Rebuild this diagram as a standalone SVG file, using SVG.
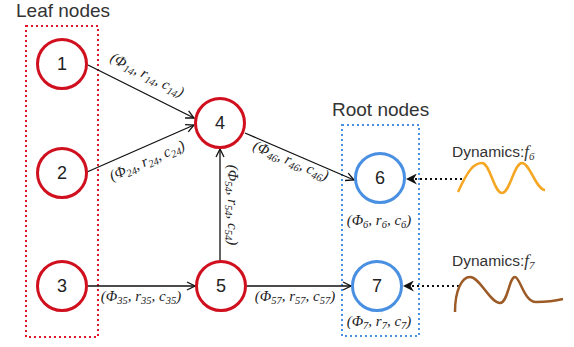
<svg xmlns="http://www.w3.org/2000/svg" width="574" height="347" viewBox="0 0 574 347">
<defs>
<style>
.leaf{fill:#fff;stroke:#d0101e;stroke-width:3}
.root{fill:#fff;stroke:#4a90e2;stroke-width:3}
.num{font-family:"Liberation Sans",Arial,sans-serif;font-size:18px;fill:#222;text-anchor:middle}
.title{font-family:"Liberation Sans",Arial,sans-serif;font-size:19px;fill:#333}
.dyn{font-family:"Liberation Sans",Arial,sans-serif;font-size:15.5px;fill:#333}
.lbl{font-family:"Liberation Serif","Times New Roman",serif;font-style:italic;font-size:15px;fill:#222;text-anchor:middle}
.sub{font-size:10.5px}
.edge{stroke:#111;stroke-width:1.3;fill:none;marker-end:url(#open)}
.dots{stroke:#111;stroke-width:2;stroke-dasharray:2 3;fill:none;marker-end:url(#classic)}
</style>
<marker id="open" viewBox="0 0 10 10" refX="9" refY="5" markerWidth="10" markerHeight="10" markerUnits="userSpaceOnUse" orient="auto">
<path d="M1,1 L9,5 L1,9" fill="none" stroke="#111" stroke-width="1.3"/>
</marker>
<marker id="classic" viewBox="0 0 10 10" refX="9" refY="5" markerWidth="11" markerHeight="11" markerUnits="userSpaceOnUse" orient="auto">
<path d="M0,0 L10,5 L0,10 L3,5 z" fill="#111"/>
</marker>
</defs>
<rect width="574" height="347" fill="#fff"/>
<g id="leaf-group">
<rect x="26" y="26" width="72" height="311" fill="none" stroke="#e0182a" stroke-width="2" stroke-dasharray="2 3"/>
<text class="title" x="16" y="17">Leaf nodes</text>
</g>
<g id="root-group">
<rect x="342" y="125" width="77" height="211" fill="none" stroke="#4a90e2" stroke-width="2" stroke-dasharray="2 3"/>
<text class="title" x="332" y="116">Root nodes</text>
</g>
<g id="connectors">
<line class="edge" x1="88" y1="65" x2="194" y2="118"/>
<line class="edge" x1="87" y1="172" x2="194" y2="125"/>
<line class="edge" x1="245" y1="133" x2="354" y2="180"/>
<line class="edge" x1="220" y1="261" x2="220" y2="149"/>
<line class="edge" x1="88" y1="286" x2="195" y2="286"/>
<line class="edge" x1="247" y1="286" x2="351" y2="286"/>
<line class="dots" x1="462" y1="179" x2="407" y2="179"/>
<line class="dots" x1="459" y1="286" x2="404" y2="286"/>
<text class="lbl" transform="translate(145,79) rotate(27)">(Φ<tspan class="sub" dy="3">14</tspan><tspan dy="-3">, r</tspan><tspan class="sub" dy="3">14</tspan><tspan dy="-3">, c</tspan><tspan class="sub" dy="3">14</tspan><tspan dy="-3">)</tspan></text>
<text class="lbl" transform="translate(149,165) rotate(-23.5)">(Φ<tspan class="sub" dy="3">24</tspan><tspan dy="-3">, r</tspan><tspan class="sub" dy="3">24</tspan><tspan dy="-3">, c</tspan><tspan class="sub" dy="3">24</tspan><tspan dy="-3">)</tspan></text>
<text class="lbl" transform="translate(289,165) rotate(23)">(Φ<tspan class="sub" dy="3">46</tspan><tspan dy="-3">, r</tspan><tspan class="sub" dy="3">46</tspan><tspan dy="-3">, c</tspan><tspan class="sub" dy="3">46</tspan><tspan dy="-3">)</tspan></text>
<text class="lbl" transform="translate(228,205) rotate(90)">(Φ<tspan class="sub" dy="3">54</tspan><tspan dy="-3">, r</tspan><tspan class="sub" dy="3">54</tspan><tspan dy="-3">, c</tspan><tspan class="sub" dy="3">54</tspan><tspan dy="-3">)</tspan></text>
<text class="lbl" x="141" y="301">(Φ<tspan class="sub" dy="3">35</tspan><tspan dy="-3">, r</tspan><tspan class="sub" dy="3">35</tspan><tspan dy="-3">, c</tspan><tspan class="sub" dy="3">35</tspan><tspan dy="-3">)</tspan></text>
<text class="lbl" x="295" y="301">(Φ<tspan class="sub" dy="3">57</tspan><tspan dy="-3">, r</tspan><tspan class="sub" dy="3">57</tspan><tspan dy="-3">, c</tspan><tspan class="sub" dy="3">57</tspan><tspan dy="-3">)</tspan></text>
</g>
<g id="node1"><circle class="leaf" cx="62" cy="64" r="24.5"/><text class="num" x="62" y="70">1</text></g>
<g id="node2"><circle class="leaf" cx="62" cy="173" r="24.5"/><text class="num" x="62" y="179">2</text></g>
<g id="node3"><circle class="leaf" cx="62" cy="286" r="24.5"/><text class="num" x="62" y="292">3</text></g>
<g id="node4"><circle class="leaf" cx="220" cy="123" r="24.5"/><text class="num" x="220" y="129">4</text></g>
<g id="node5"><circle class="leaf" cx="221" cy="286" r="24.5"/><text class="num" x="221" y="292">5</text></g>
<g id="node6"><circle class="root" cx="380" cy="178" r="24.5"/><text class="num" x="380" y="184">6</text>
<text class="lbl" x="379" y="225">(Φ<tspan class="sub" dy="3">6</tspan><tspan dy="-3">, r</tspan><tspan class="sub" dy="3">6</tspan><tspan dy="-3">, c</tspan><tspan class="sub" dy="3">6</tspan><tspan dy="-3">)</tspan></text></g>
<g id="node7"><circle class="root" cx="377" cy="286" r="24.5"/><text class="num" x="377" y="292">7</text>
<text class="lbl" x="379" y="326">(Φ<tspan class="sub" dy="3">7</tspan><tspan dy="-3">, r</tspan><tspan class="sub" dy="3">7</tspan><tspan dy="-3">, c</tspan><tspan class="sub" dy="3">7</tspan><tspan dy="-3">)</tspan></text></g>
<g id="dynamics6">
<text class="dyn" x="452" y="157">Dynamics:<tspan font-family="Liberation Serif,serif" font-style="italic" font-size="17px">f</tspan><tspan font-family="Liberation Serif,serif" font-style="italic" font-size="11px" dy="3">6</tspan></text>
<path d="M458,192 C468,170 474,163 482,163 C490,163 494,193 502,193 C510,193 514,163 522,163 C530,163 536,190 545,190" fill="none" stroke="#f5a623" stroke-width="2.5"/>
</g>
<g id="dynamics7">
<text class="dyn" x="452" y="266">Dynamics:<tspan font-family="Liberation Serif,serif" font-style="italic" font-size="17px">f</tspan><tspan font-family="Liberation Serif,serif" font-style="italic" font-size="11px" dy="3">7</tspan></text>
<path d="M455,312 C455,290 462,277 470,277 C480,277 490,303 500,303 C508,303 509,277 515,277 C520,277 524,302 536,302 C546,302 555,301 563,299" fill="none" stroke="#9c5b26" stroke-width="2.5"/>
</g>
</svg>
